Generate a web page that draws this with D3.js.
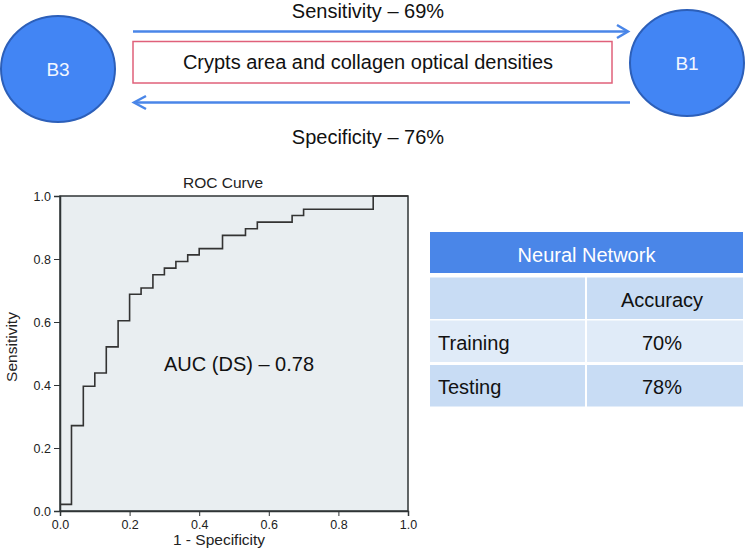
<!DOCTYPE html>
<html>
<head>
<meta charset="utf-8">
<script src="https://cdn.jsdelivr.net/npm/d3@7"></script>
<style>
  body { margin: 0; background: #fff; }
  svg text { font-family: 'Liberation Sans', Arial, Helvetica, sans-serif; }
</style>
</head>
<body>
<div id="figure"></div>
<script>
'use strict';

// diagram labels
const nodeLabels = ['B3', 'B1'];
const sensitivityText = 'Sensitivity \u2013 69%';
const specificityText = 'Specificity \u2013 76%';
const featureText = 'Crypts area and collagen optical densities';

// ROC curve points (1 - specificity, sensitivity)
const fpr = [0, 0.033, 0.067, 0.1, 0.133, 0.167, 0.2, 0.233, 0.267, 0.3, 0.333,
             0.367, 0.4, 0.467, 0.533, 0.567, 0.667, 0.7, 0.9, 1.0];
const tpr = [0.021, 0.271, 0.396, 0.438, 0.521, 0.604, 0.688, 0.708, 0.75, 0.771, 0.792,
             0.813, 0.833, 0.875, 0.896, 0.917, 0.938, 0.958, 1.0, 1.0];
const tickValues = [0, 0.2, 0.4, 0.6, 0.8, 1.0];
const aucText = 'AUC (DS) \u2013 0.78';

// table
const tableTitle = 'Neural Network';
const tableColumn = 'Accuracy';
const rowLabels = ['Training', 'Testing'];
const accuracy = ['70%', '78%'];

const blue = '#4a86e8';

const svg = d3.select('#figure')
              .append('svg')
                .attr('width', 745)
                .attr('height', 554);

// ---- top diagram ----
function drawDiagram() {
  const g = svg.append('g');
  const nodes = [
    {label: nodeLabels[0], cx: 58, cy: 69, rx: 57, ry: 53},
    {label: nodeLabels[1], cx: 687, cy: 63, rx: 57, ry: 53},
  ];
  g.selectAll('ellipse')
   .data(nodes)
   .enter()
   .append('ellipse')
     .attr('cx', d => d.cx)
     .attr('cy', d => d.cy)
     .attr('rx', d => d.rx)
     .attr('ry', d => d.ry)
     .attr('fill', '#4285f4')
     .attr('stroke', '#2c5fb9')
     .attr('stroke-width', 2);
  g.selectAll('text.node')
   .data(nodes)
   .enter()
   .append('text')
     .attr('class', 'node')
     .attr('x', d => d.cx)
     .attr('y', d => d.cy + 7)
     .attr('text-anchor', 'middle')
     .attr('font-size', 19)
     .attr('fill', '#f2f6ff')
     .text(d => d.label);

  // arrows
  g.append('line')
   .attr('x1', 133).attr('x2', 627).attr('y1', 31.5).attr('y2', 31.5)
   .attr('stroke', blue).attr('stroke-width', 2.5);
  g.append('path')
   .attr('d', 'M617,25 L628,31.5 L617,38')
   .attr('fill', 'none').attr('stroke', blue).attr('stroke-width', 2.5);
  g.append('line')
   .attr('x1', 134).attr('x2', 630).attr('y1', 102.5).attr('y2', 102.5)
   .attr('stroke', blue).attr('stroke-width', 2.5);
  g.append('path')
   .attr('d', 'M146,96 L134,102.5 L146,109')
   .attr('fill', 'none').attr('stroke', blue).attr('stroke-width', 2.5);

  g.append('rect')
   .attr('x', 133).attr('y', 41.5)
   .attr('width', 479).attr('height', 41.5)
   .attr('fill', '#fff')
   .attr('stroke', '#e0607a')
   .attr('stroke-width', 1.5);

  const texts = [
    {t: sensitivityText, y: 17.5},
    {t: featureText, y: 68.5},
    {t: specificityText, y: 144},
  ];
  g.selectAll('text.lab')
   .data(texts)
   .enter()
   .append('text')
     .attr('class', 'lab')
     .attr('x', 368)
     .attr('y', d => d.y)
     .attr('text-anchor', 'middle')
     .attr('font-size', 20)
     .attr('fill', '#111')
     .text(d => d.t);
}

// ---- ROC chart ----
function drawRoc() {
  const left = 60, right = 408, top = 196, bottom = 511;
  const x = d3.scaleLinear().domain([0, 1]).range([left, right]);
  const y = d3.scaleLinear().domain([0, 1]).range([bottom, top]);
  const g = svg.append('g');

  g.append('rect')
   .attr('x', left).attr('y', top)
   .attr('width', right - left).attr('height', bottom - top)
   .attr('fill', '#e9eef1')
   .attr('stroke', '#2f3436')
   .attr('stroke-width', 1.5);

  const xAxis = g.append('g')
                 .attr('transform', `translate(0, ${bottom})`)
                 .call(d3.axisBottom(x).tickValues(tickValues).tickFormat(d3.format('.1f')).tickSize(5).tickPadding(4));
  const yAxis = g.append('g')
                 .attr('transform', `translate(${left}, 0)`)
                 .call(d3.axisLeft(y).tickValues(tickValues).tickFormat(d3.format('.1f')).tickSize(6).tickPadding(3));
  [xAxis, yAxis].forEach(a => {
    a.select('.domain').attr('stroke', '#2f3436').attr('stroke-width', 1.5);
    a.selectAll('.tick line').attr('stroke', '#2f3436');
    a.selectAll('.tick text')
     .attr('font-size', 12.5)
     .attr('fill', '#222')
     .style('font-family', "'Liberation Sans', Arial, sans-serif");
  });

  const pts = fpr.map((f, i) => [f, tpr[i]]);
  g.append('path')
   .datum(pts)
   .attr('fill', 'none')
   .attr('stroke', '#333')
   .attr('stroke-width', 1.6)
   .attr('d', d3.line().x(d => x(d[0])).y(d => y(d[1])).curve(d3.curveStepAfter));

  g.append('text')
   .attr('x', 223).attr('y', 188)
   .attr('text-anchor', 'middle')
   .attr('font-size', 15.5)
   .attr('fill', '#222')
   .text('ROC Curve');
  g.append('text')
   .attr('x', 219).attr('y', 545)
   .attr('text-anchor', 'middle')
   .attr('font-size', 15.5)
   .attr('fill', '#222')
   .text('1 - Specificity');
  g.append('text')
   .attr('transform', 'translate(17, 347) rotate(-90)')
   .attr('text-anchor', 'middle')
   .attr('font-size', 15.5)
   .attr('fill', '#222')
   .text('Sensitivity');
  g.append('text')
   .attr('x', 164).attr('y', 371)
   .attr('font-size', 20)
   .attr('fill', '#111')
   .text(aucText);
}

// ---- table ----
function drawTable() {
  const g = svg.append('g');
  const x0 = 430, x1 = 586, x2 = 743;
  g.append('rect')
   .attr('x', x0).attr('y', 232)
   .attr('width', x2 - x0).attr('height', 41)
   .attr('fill', blue);
  g.append('text')
   .attr('x', (x0 + x2) / 2).attr('y', 262)
   .attr('text-anchor', 'middle')
   .attr('font-size', 20)
   .attr('fill', '#fff')
   .text(tableTitle);

  const rows = [{label: '', value: tableColumn}].concat(
    rowLabels.map((r, i) => ({label: r, value: accuracy[i]})));
  const rowY = [277.5, 320.5, 365];
  const rowFill = ['#c8dcf4', '#e0ebf8', '#c8dcf4'];
  const rowG = g.selectAll('g.row')
                .data(rows)
                .enter()
                .append('g')
                  .attr('class', 'row')
                  .attr('transform', (d, i) => `translate(0, ${rowY[i]})`);
  rowG.append('rect')
      .attr('x', x0).attr('width', x1 - x0 - 1).attr('height', 41.5)
      .attr('fill', (d, i) => rowFill[i]);
  rowG.append('rect')
      .attr('x', x1 + 1).attr('width', x2 - x1 - 1).attr('height', 41.5)
      .attr('fill', (d, i) => rowFill[i]);
  rowG.append('text')
      .attr('x', x0 + 8).attr('y', 29)
      .attr('font-size', 20)
      .attr('fill', '#111')
      .text(d => d.label);
  rowG.append('text')
      .attr('x', 662).attr('y', 29)
      .attr('text-anchor', 'middle')
      .attr('font-size', 20)
      .attr('fill', '#111')
      .text(d => d.value);
}

drawDiagram();
drawRoc();
drawTable();
</script>
</body>
</html>
